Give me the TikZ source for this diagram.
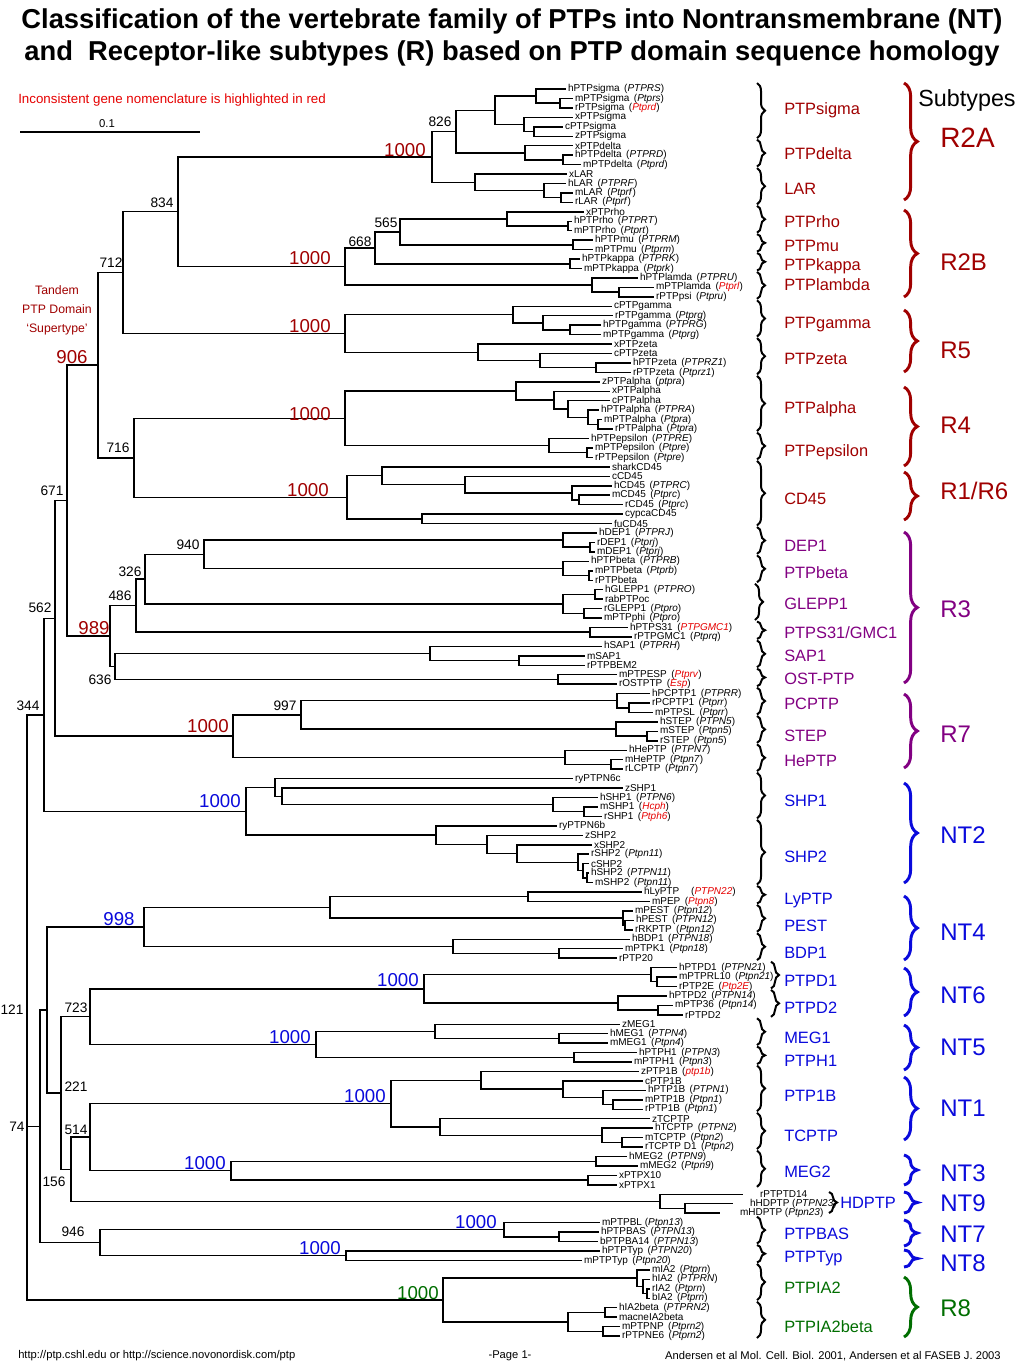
\documentclass[tikz,border=0pt]{standalone}
\usepackage{fontspec}
\setmainfont{Liberation Sans}
\usetikzlibrary{calc,decorations.pathreplacing}
\definecolor{dred}{RGB}{160,0,0}
\definecolor{brred}{RGB}{230,0,0}
\definecolor{dpurp}{RGB}{130,0,130}
\definecolor{dblue}{RGB}{10,10,220}
\definecolor{dgreen}{RGB}{0,110,0}
\tikzset{
  brl/.style={line width=1.1pt},
  lbl/.style={anchor=west,inner sep=1.3pt,font=\fontsize{7.5}{8.5}\selectfont},
  bsk/.style={inner sep=0pt,font=\fontsize{10.3}{12}\selectfont},
  bsc/.style={inner sep=0pt,font=\fontsize{14}{16}\selectfont},
  fbr/.style={line width=1.5pt,decorate,decoration={brace,amplitude=6pt}},
  sbr/.style={line width=2.2pt,decorate,decoration={brace,amplitude=10pt}},
  famlbl/.style={anchor=west,inner sep=0pt,font=\fontsize{12.3}{14}\selectfont},
  sublbl/.style={anchor=west,inner sep=0pt,font=\fontsize{18}{20}\selectfont},
  foot/.style={inner sep=0pt,font=\fontsize{8.4}{10}\selectfont}
}
\newcommand\PGene[1]{\kern0.45em(\textit{#1})}
\newcommand\PGeneR[1]{\kern0.45em(\textcolor{brred}{\textit{#1}})}
\newcommand\PNode[5]{\path let \p1=(#3), \p2=(#4) in coordinate (#1) at ({#2*0.75pt},{(\y1+\y2)/2});
  \foreach \ch in {#3,#4#5} {\draw[brl] (#1) |- (\ch);}}
\newcommand\PFam[7]{\draw[fbr] (#6,{89+9.447*(#2-1)-6}) -- (#6,{89+9.447*(#3-1)+2});
  \node[famlbl,text=#5] (#1) at (784,{89+9.447*(#2+#3-2)/2+#7}) {#4};}
\newcommand\PSub[6]{\draw[sbr,#5] (904,#2) -- (904,#3);
  \node[sublbl,text=#5] (#1) at (940,#6) {#4};}
\begin{document}
\begin{tikzpicture}[x=0.75pt,y=-0.75pt]
\path[use as bounding box,fill=white] (0,0) rectangle (1024,1365);
\node[font=\fontsize{20.5}{24}\bfseries\selectfont,inner sep=0pt] (title1) at (512,21) {Classification of the vertebrate family of PTPs into Nontransmembrane (NT)};
\node[font=\fontsize{20.5}{24}\bfseries\selectfont,inner sep=0pt] (title2) at (512,53) {and\ \ Receptor-like subtypes (R) based on PTP domain sequence homology};
\node[anchor=west,inner sep=0pt,text=brred,font=\fontsize{10}{12}\selectfont] (note) at (18,100) {Inconsistent gene nomenclature is highlighted in red};
\coordinate (sb1) at (20,132); \coordinate (sb2) at (200,132);
\draw[line width=0.8pt] (sb1) -- (sb2);
\node[bsk,font=\fontsize{8.5}{10}\selectfont] (sbl) at (107,124) {0.1};
\node[text=dred,inner sep=0pt,font=\fontsize{9.2}{11}\selectfont] (tandem1) at (57,290) {Tandem};
\node[text=dred,inner sep=0pt,font=\fontsize{9.2}{11}\selectfont] (tandem2) at (57,309) {PTP Domain};
\node[text=dred,inner sep=0pt,font=\fontsize{9.2}{11}\selectfont] (tandem3) at (57,329) {‘Supertype’};
% leaves
\coordinate (L1) at (566,{89+9.447*0}); \node[lbl] (T1) at (L1) {hPTPsigma\PGene{PTPRS}};
\coordinate (L2) at (573,{89+9.447*1}); \node[lbl] (T2) at (L2) {mPTPsigma\PGene{Ptprs}};
\coordinate (L3) at (573,{89+9.447*2}); \node[lbl] (T3) at (L3) {rPTPsigma\PGeneR{Ptprd}};
\coordinate (L4) at (573,{89+9.447*3}); \node[lbl] (T4) at (L4) {xPTPsigma};
\coordinate (L5) at (563,{89+9.447*4}); \node[lbl] (T5) at (L5) {cPTPsigma};
\coordinate (L6) at (573,{89+9.447*5}); \node[lbl] (T6) at (L6) {zPTPsigma};
\coordinate (L7) at (573,{89+9.447*6}); \node[lbl] (T7) at (L7) {xPTPdelta};
\coordinate (L8) at (573,{89+9.447*7}); \node[lbl] (T8) at (L8) {hPTPdelta\PGene{PTPRD}};
\coordinate (L9) at (581,{89+9.447*8}); \node[lbl] (T9) at (L9) {mPTPdelta\PGene{Ptprd}};
\coordinate (L10) at (567,{89+9.447*9}); \node[lbl] (T10) at (L10) {xLAR};
\coordinate (L11) at (566,{89+9.447*10}); \node[lbl] (T11) at (L11) {hLAR\PGene{PTPRF}};
\coordinate (L12) at (573,{89+9.447*11}); \node[lbl] (T12) at (L12) {mLAR\PGene{Ptprf}};
\coordinate (L13) at (573,{89+9.447*12}); \node[lbl] (T13) at (L13) {rLAR\PGene{Ptprf}};
\coordinate (L14) at (584,{89+9.447*13}); \node[lbl] (T14) at (L14) {xPTPrho};
\coordinate (L15) at (572,{89+9.447*14}); \node[lbl] (T15) at (L15) {hPTPrho\PGene{PTPRT}};
\coordinate (L16) at (572,{89+9.447*15}); \node[lbl] (T16) at (L16) {mPTPrho\PGene{Ptprt}};
\coordinate (L17) at (593,{89+9.447*16}); \node[lbl] (T17) at (L17) {hPTPmu\PGene{PTPRM}};
\coordinate (L18) at (593,{89+9.447*17}); \node[lbl] (T18) at (L18) {mPTPmu\PGene{Ptprm}};
\coordinate (L19) at (580,{89+9.447*18}); \node[lbl] (T19) at (L19) {hPTPkappa\PGene{PTPRK}};
\coordinate (L20) at (582,{89+9.447*19}); \node[lbl] (T20) at (L20) {mPTPkappa\PGene{Ptprk}};
\coordinate (L21) at (638,{89+9.447*20}); \node[lbl] (T21) at (L21) {hPTPlamda\PGene{PTPRU}};
\coordinate (L22) at (654,{89+9.447*21}); \node[lbl] (T22) at (L22) {mPTPlamda\PGeneR{Ptprl}};
\coordinate (L23) at (654,{89+9.447*22}); \node[lbl] (T23) at (L23) {rPTPpsi\PGene{Ptpru}};
\coordinate (L24) at (612,{89+9.447*23}); \node[lbl] (T24) at (L24) {cPTPgamma};
\coordinate (L25) at (613,{89+9.447*24}); \node[lbl] (T25) at (L25) {rPTPgamma\PGene{Ptprg}};
\coordinate (L26) at (601,{89+9.447*25}); \node[lbl] (T26) at (L26) {hPTPgamma\PGene{PTPRG}};
\coordinate (L27) at (601,{89+9.447*26}); \node[lbl] (T27) at (L27) {mPTPgamma\PGene{Ptprg}};
\coordinate (L28) at (612,{89+9.447*27}); \node[lbl] (T28) at (L28) {xPTPzeta};
\coordinate (L29) at (612,{89+9.447*28}); \node[lbl] (T29) at (L29) {cPTPzeta};
\coordinate (L30) at (631,{89+9.447*29}); \node[lbl] (T30) at (L30) {hPTPzeta\PGene{PTPRZ1}};
\coordinate (L31) at (631,{89+9.447*30}); \node[lbl] (T31) at (L31) {rPTPzeta\PGene{Ptprz1}};
\coordinate (L32) at (600,{89+9.447*31}); \node[lbl] (T32) at (L32) {zPTPalpha\PGene{ptpra}};
\coordinate (L33) at (610,{89+9.447*32}); \node[lbl] (T33) at (L33) {xPTPalpha};
\coordinate (L34) at (610,{89+9.447*33}); \node[lbl] (T34) at (L34) {cPTPalpha};
\coordinate (L35) at (599,{89+9.447*34}); \node[lbl] (T35) at (L35) {hPTPalpha\PGene{PTPRA}};
\coordinate (L36) at (602,{89+9.447*35}); \node[lbl] (T36) at (L36) {mPTPalpha\PGene{Ptpra}};
\coordinate (L37) at (613,{89+9.447*36}); \node[lbl] (T37) at (L37) {rPTPalpha\PGene{Ptpra}};
\coordinate (L38) at (589,{89+9.447*37}); \node[lbl] (T38) at (L38) {hPTPepsilon\PGene{PTPRE}};
\coordinate (L39) at (593,{89+9.447*38}); \node[lbl] (T39) at (L39) {mPTPepsilon\PGene{Ptpre}};
\coordinate (L40) at (593,{89+9.447*39}); \node[lbl] (T40) at (L40) {rPTPepsilon\PGene{Ptpre}};
\coordinate (L41) at (610,{89+9.447*40}); \node[lbl] (T41) at (L41) {sharkCD45};
\coordinate (L42) at (610,{89+9.447*41}); \node[lbl] (T42) at (L42) {cCD45};
\coordinate (L43) at (612,{89+9.447*42}); \node[lbl] (T43) at (L43) {hCD45\PGene{PTPRC}};
\coordinate (L44) at (610,{89+9.447*43}); \node[lbl] (T44) at (L44) {mCD45\PGene{Ptprc}};
\coordinate (L45) at (623,{89+9.447*44}); \node[lbl] (T45) at (L45) {rCD45\PGene{Ptprc}};
\coordinate (L46) at (623,{89+9.447*45}); \node[lbl] (T46) at (L46) {cypcaCD45};
\coordinate (L47) at (612,{89+9.447*46}); \node[lbl] (T47) at (L47) {fuCD45};
\coordinate (L48) at (597,{89+9.447*47}); \node[lbl] (T48) at (L48) {hDEP1\PGene{PTPRJ}};
\coordinate (L49) at (595,{89+9.447*48}); \node[lbl] (T49) at (L49) {rDEP1\PGene{Ptprj}};
\coordinate (L50) at (595,{89+9.447*49}); \node[lbl] (T50) at (L50) {mDEP1\PGene{Ptprj}};
\coordinate (L51) at (589,{89+9.447*50}); \node[lbl] (T51) at (L51) {hPTPbeta\PGene{PTPRB}};
\coordinate (L52) at (593,{89+9.447*51}); \node[lbl] (T52) at (L52) {mPTPbeta\PGene{Ptprb}};
\coordinate (L53) at (593,{89+9.447*52}); \node[lbl] (T53) at (L53) {rPTPbeta};
\coordinate (L54) at (603,{89+9.447*53}); \node[lbl] (T54) at (L54) {hGLEPP1\PGene{PTPRO}};
\coordinate (L55) at (603,{89+9.447*54}); \node[lbl] (T55) at (L55) {rabPTPoc};
\coordinate (L56) at (602,{89+9.447*55}); \node[lbl] (T56) at (L56) {rGLEPP1\PGene{Ptpro}};
\coordinate (L57) at (602,{89+9.447*56}); \node[lbl] (T57) at (L57) {mPTPphi\PGene{Ptpro}};
\coordinate (L58) at (628,{89+9.447*57}); \node[lbl] (T58) at (L58) {hPTPS31\PGeneR{PTPGMC1}};
\coordinate (L59) at (632,{89+9.447*58}); \node[lbl] (T59) at (L59) {rPTPGMC1\PGene{Ptprq}};
\coordinate (L60) at (602,{89+9.447*59}); \node[lbl] (T60) at (L60) {hSAP1\PGene{PTPRH}};
\coordinate (L61) at (585,{89+9.447*60}); \node[lbl] (T61) at (L61) {mSAP1};
\coordinate (L62) at (585,{89+9.447*61}); \node[lbl] (T62) at (L62) {rPTPBEM2};
\coordinate (L63) at (617,{89+9.447*62}); \node[lbl] (T63) at (L63) {mPTPESP\PGeneR{Ptprv}};
\coordinate (L64) at (617,{89+9.447*63}); \node[lbl] (T64) at (L64) {rOSTPTP\PGeneR{Esp}};
\coordinate (L65) at (650,{89+9.447*64}); \node[lbl] (T65) at (L65) {hPCPTP1\PGene{PTPRR}};
\coordinate (L66) at (650,{89+9.447*65}); \node[lbl] (T66) at (L66) {rPCPTP1\PGene{Ptprr}};
\coordinate (L67) at (653,{89+9.447*66}); \node[lbl] (T67) at (L67) {mPTPSL\PGene{Ptprr}};
\coordinate (L68) at (658,{89+9.447*67}); \node[lbl] (T68) at (L68) {hSTEP\PGene{PTPN5}};
\coordinate (L69) at (658,{89+9.447*68}); \node[lbl] (T69) at (L69) {mSTEP\PGene{Ptpn5}};
\coordinate (L70) at (658,{89+9.447*69}); \node[lbl] (T70) at (L70) {rSTEP\PGene{Ptpn5}};
\coordinate (L71) at (627,{89+9.447*70}); \node[lbl] (T71) at (L71) {hHePTP\PGene{PTPN7}};
\coordinate (L72) at (623,{89+9.447*71}); \node[lbl] (T72) at (L72) {mHePTP\PGene{Ptpn7}};
\coordinate (L73) at (623,{89+9.447*72}); \node[lbl] (T73) at (L73) {rLCPTP\PGene{Ptpn7}};
\coordinate (L74) at (573,{89+9.447*73}); \node[lbl] (T74) at (L74) {ryPTPN6c};
\coordinate (L75) at (623,{89+9.447*74}); \node[lbl] (T75) at (L75) {zSHP1};
\coordinate (L76) at (598,{89+9.447*75}); \node[lbl] (T76) at (L76) {hSHP1\PGene{PTPN6}};
\coordinate (L77) at (598,{89+9.447*76}); \node[lbl] (T77) at (L77) {mSHP1\PGeneR{Hcph}};
\coordinate (L78) at (602,{89+9.447*77}); \node[lbl] (T78) at (L78) {rSHP1\PGeneR{Ptph6}};
\coordinate (L79) at (557,{89+9.447*78}); \node[lbl] (T79) at (L79) {ryPTPN6b};
\coordinate (L80) at (583,{89+9.447*79}); \node[lbl] (T80) at (L80) {zSHP2};
\coordinate (L81) at (592,{89+9.447*80}); \node[lbl] (T81) at (L81) {xSHP2};
\coordinate (L82) at (589,{89+9.447*81}); \node[lbl] (T82) at (L82) {rSHP2\PGene{Ptpn11}};
\coordinate (L83) at (589,{89+9.447*82}); \node[lbl] (T83) at (L83) {cSHP2};
\coordinate (L84) at (589,{89+9.447*83}); \node[lbl] (T84) at (L84) {hSHP2\PGene{PTPN11}};
\coordinate (L85) at (593,{89+9.447*84}); \node[lbl] (T85) at (L85) {mSHP2\PGene{Ptpn11}};
\coordinate (L86) at (642,{89+9.447*85}); \node[lbl] (T86) at (L86) {hLyPTP\kern1.2em(\textcolor{brred}{\textit{PTPN22}})};
\coordinate (L87) at (650,{89+9.447*86}); \node[lbl] (T87) at (L87) {mPEP\PGeneR{Ptpn8}};
\coordinate (L88) at (633,{89+9.447*87}); \node[lbl] (T88) at (L88) {mPEST\PGene{Ptpn12}};
\coordinate (L89) at (634,{89+9.447*88}); \node[lbl] (T89) at (L89) {hPEST\PGene{PTPN12}};
\coordinate (L90) at (633,{89+9.447*89}); \node[lbl] (T90) at (L90) {rRKPTP\PGene{Ptpn12}};
\coordinate (L91) at (630,{89+9.447*90}); \node[lbl] (T91) at (L91) {hBDP1\PGene{PTPN18}};
\coordinate (L92) at (623,{89+9.447*91}); \node[lbl] (T92) at (L92) {mPTPK1\PGene{Ptpn18}};
\coordinate (L93) at (617,{89+9.447*92}); \node[lbl] (T93) at (L93) {rPTP20};
\coordinate (L94) at (677,{89+9.447*93}); \node[lbl] (T94) at (L94) {hPTPD1\PGene{PTPN21}};
\coordinate (L95) at (677,{89+9.447*94}); \node[lbl] (T95) at (L95) {mPTPRL10\PGene{Ptpn21}};
\coordinate (L96) at (677,{89+9.447*95}); \node[lbl] (T96) at (L96) {rPTP2E\PGeneR{Ptp2E}};
\coordinate (L97) at (667,{89+9.447*96}); \node[lbl] (T97) at (L97) {hPTPD2\PGene{PTPN14}};
\coordinate (L98) at (673,{89+9.447*97}); \node[lbl] (T98) at (L98) {mPTP36\PGene{Ptpn14}};
\coordinate (L99) at (683,{89+9.447*98}); \node[lbl] (T99) at (L99) {rPTPD2};
\coordinate (L100) at (620,{89+9.447*99}); \node[lbl] (T100) at (L100) {zMEG1};
\coordinate (L101) at (608,{89+9.447*100}); \node[lbl] (T101) at (L101) {hMEG1\PGene{PTPN4}};
\coordinate (L102) at (608,{89+9.447*101}); \node[lbl] (T102) at (L102) {mMEG1\PGene{Ptpn4}};
\coordinate (L103) at (637,{89+9.447*102}); \node[lbl] (T103) at (L103) {hPTPH1\PGene{PTPN3}};
\coordinate (L104) at (632,{89+9.447*103}); \node[lbl] (T104) at (L104) {mPTPH1\PGene{Ptpn3}};
\coordinate (L105) at (639,{89+9.447*104}); \node[lbl] (T105) at (L105) {zPTP1B\PGeneR{ptp1b}};
\coordinate (L106) at (643,{89+9.447*105}); \node[lbl] (T106) at (L106) {cPTP1B};
\coordinate (L107) at (646,{89+9.447*106}); \node[lbl] (T107) at (L107) {hPTP1B\PGene{PTPN1}};
\coordinate (L108) at (643,{89+9.447*107}); \node[lbl] (T108) at (L108) {mPTP1B\PGene{Ptpn1}};
\coordinate (L109) at (643,{89+9.447*108}); \node[lbl] (T109) at (L109) {rPTP1B\PGene{Ptpn1}};
\coordinate (L110) at (650,{89+9.447*109}); \node[lbl] (T110) at (L110) {zTCPTP};
\coordinate (L111) at (653,{89+9.447*110}); \node[lbl] (T111) at (L111) {hTCPTP\PGene{PTPN2}};
\coordinate (L112) at (643,{89+9.447*111}); \node[lbl] (T112) at (L112) {mTCPTP\PGene{Ptpn2}};
\coordinate (L113) at (643,{89+9.447*112}); \node[lbl] (T113) at (L113) {rTCPTP D1\PGene{Ptpn2}};
\coordinate (L114) at (627,{89+9.447*113}); \node[lbl] (T114) at (L114) {hMEG2\PGene{PTPN9}};
\coordinate (L115) at (638,{89+9.447*114}); \node[lbl] (T115) at (L115) {mMEG2\PGene{Ptpn9}};
\coordinate (L116) at (617,{89+9.447*115}); \node[lbl] (T116) at (L116) {xPTPX10};
\coordinate (L117) at (617,{89+9.447*116}); \node[lbl] (T117) at (L117) {xPTPX1};
\coordinate (L118) at (743,{89+9.447*117}); \node[lbl] (T118) at (758,{89+9.447*117}) {rPTPTD14};
\coordinate (L119) at (733,{89+9.447*118}); \node[lbl] (T119) at (748,{89+9.447*118}) {hHDPTP (\textit{PTPN23})};
\coordinate (L120) at (720,{89+9.447*119}); \node[lbl] (T120) at (738,{89+9.447*119}) {mHDPTP (\textit{Ptpn23})};
\coordinate (L121) at (600,{89+9.447*120}); \node[lbl] (T121) at (L121) {mPTPBL (\textit{Ptpn13})};
\coordinate (L122) at (599,{89+9.447*121}); \node[lbl] (T122) at (L122) {hPTPBAS\PGene{PTPN13}};
\coordinate (L123) at (598,{89+9.447*122}); \node[lbl] (T123) at (L123) {bPTPBA14\PGene{PTPN13}};
\coordinate (L124) at (600,{89+9.447*123}); \node[lbl] (T124) at (L124) {hPTPTyp\PGene{PTPN20}};
\coordinate (L125) at (582,{89+9.447*124}); \node[lbl] (T125) at (L125) {mPTPTyp\PGene{Ptpn20}};
\coordinate (L126) at (650,{89+9.447*125}); \node[lbl] (T126) at (L126) {mIA2\PGene{Ptprn}};
\coordinate (L127) at (650,{89+9.447*126}); \node[lbl] (T127) at (L127) {hIA2\PGene{PTPRN}};
\coordinate (L128) at (650,{89+9.447*127}); \node[lbl] (T128) at (L128) {rIA2\PGene{Ptprn}};
\coordinate (L129) at (650,{89+9.447*128}); \node[lbl] (T129) at (L129) {bIA2\PGene{Ptprn}};
\coordinate (L130) at (617,{89+9.447*129}); \node[lbl] (T130) at (L130) {hIA2beta\PGene{PTPRN2}};
\coordinate (L131) at (617,{89+9.447*130}); \node[lbl] (T131) at (L131) {macneIA2beta};
\coordinate (L132) at (620,{89+9.447*131}); \node[lbl] (T132) at (L132) {mPTPNP\PGene{Ptprn2}};
\coordinate (L133) at (620,{89+9.447*132}); \node[lbl] (T133) at (L133) {rPTPNE6\PGene{Ptprn2}};
% R2A
\PNode{n1}{560}{L2}{L3}{}
\PNode{n2}{536}{L1}{n1}{}
\PNode{n3}{534}{L5}{L6}{}
\PNode{n4}{524}{L4}{n3}{}
\PNode{n5}{495}{n2}{n4}{}
\PNode{n6}{563}{L8}{L9}{}
\PNode{n7}{525}{L7}{n6}{}
\PNode{n826}{456}{n5}{n7}{}
\PNode{n8}{561}{L12}{L13}{}
\PNode{n9}{544}{L11}{n8}{}
\PNode{n10}{475}{L10}{n9}{}
\PNode{nR2A}{432}{n826}{n10}{}
% R2B
\PNode{n11}{568}{L15}{L16}{}
\PNode{n12}{507}{L14}{n11}{}
\PNode{n13}{573}{L17}{L18}{}
\PNode{n565}{400}{n12}{n13}{}
\PNode{n14}{570}{L19}{L20}{}
\PNode{n668}{375}{n565}{n14}{}
\PNode{n15}{619}{L22}{L23}{}
\PNode{n16}{592}{L21}{n15}{}
\PNode{nR2B}{345}{n668}{n16}{}
\PNode{n834}{178}{nR2A}{nR2B}{}
% R5
\PNode{n17}{570}{L26}{L27}{}
\PNode{n18}{543}{L25}{n17}{}
\PNode{n19}{513}{L24}{n18}{}
\PNode{n20}{596}{L30}{L31}{}
\PNode{n21}{540}{L29}{n20}{}
\PNode{n22}{478}{L28}{n21}{}
\PNode{nR5}{345}{n19}{n22}{}
\PNode{n712}{123}{n834}{nR5}{}
% R4
\PNode{n23}{598}{L36}{L37}{}
\PNode{n24}{588}{L35}{n23}{}
\PNode{n25}{568}{L34}{n24}{}
\PNode{n26}{554}{L33}{n25}{}
\PNode{n27}{516}{L32}{n26}{}
\PNode{n28}{587}{L39}{L40}{}
\PNode{n29}{549}{L38}{n28}{}
\PNode{nR4}{345}{n27}{n29}{}
% CD45
\PNode{n30}{579}{L44}{L45}{}
\PNode{n31}{572}{L43}{n30}{}
\PNode{n32}{465}{L42}{n31}{}
\PNode{n33}{382}{L41}{n32}{}
\PNode{n34}{422}{L46}{L47}{}
\PNode{nCD}{347}{n33}{n34}{}
\PNode{n716}{134}{nR4}{nCD}{}
\PNode{n906}{98}{n712}{n716}{}
% R3
\PNode{n35}{590}{L49}{L50}{}
\PNode{n36}{563}{L48}{n35}{}
\PNode{n37}{589}{L52}{L53}{}
\PNode{n38}{563}{L51}{n37}{}
\PNode{n940}{204}{n36}{n38}{}
\PNode{n39}{595}{L54}{L55}{}
\PNode{n40}{584}{L56}{L57}{}
\PNode{n41}{563}{n39}{n40}{}
\PNode{n326}{145}{n940}{n41}{}
\PNode{n42}{590}{L58}{L59}{}
\PNode{n486}{136}{n326}{n42}{}
\PNode{n43}{519}{L61}{L62}{}
\PNode{n44}{430}{L60}{n43}{}
\PNode{n45}{558}{L63}{L64}{}
\PNode{n636}{115}{n44}{n45}{}
\PNode{n989}{110}{n486}{n636}{}
\PNode{n671}{67}{n906}{n989}{}
% R7
\PNode{n46}{629}{L66}{L67}{}
\PNode{n47}{617}{L65}{n46}{}
\PNode{n48}{647}{L69}{L70}{}
\PNode{n49}{616}{L68}{n48}{}
\PNode{n997}{301}{n47}{n49}{}
\PNode{n50}{611}{L72}{L73}{}
\PNode{n51}{565}{L71}{n50}{}
\PNode{nR7}{233}{n997}{n51}{}
\PNode{n562}{55}{n671}{nR7}{}
% SHP
\PNode{n52}{584}{L77}{L78}{}
\PNode{n53}{553}{L76}{n52}{}
\PNode{n54}{282}{L75}{n53}{}
\PNode{n55}{275}{L74}{n54}{}
\PNode{n56}{587}{L84}{L85}{}
\PNode{n57}{583}{L83}{n56}{}
\PNode{n58}{578}{L82}{n57}{}
\PNode{n59}{517}{L81}{n58}{}
\PNode{n60}{487}{L80}{n59}{}
\PNode{n61}{436}{L79}{n60}{}
\PNode{nSHP}{246}{n55}{n61}{}
\PNode{n344}{44}{n562}{nSHP}{}
% NT4
\PNode{n62}{528}{L86}{L87}{}
\PNode{n63}{625}{L89}{L90}{}
\PNode{n64}{623}{L88}{n63}{}
\PNode{n65}{330}{n62}{n64}{}
\PNode{n66}{559}{L92}{L93}{}
\PNode{n67}{453}{L91}{n66}{}
\PNode{n998}{144}{n65}{n67}{}
% NT6, NT5
\PNode{n68}{657}{L95}{L96}{}
\PNode{n69}{651}{L94}{n68}{}
\PNode{n70}{658}{L98}{L99}{}
\PNode{n71}{618}{L97}{n70}{}
\PNode{nNT6}{424}{n69}{n71}{}
\PNode{n72}{559}{L101}{L102}{}
\PNode{n73}{435}{L100}{n72}{}
\PNode{n74}{574}{L103}{L104}{}
\PNode{nNT5}{316}{n73}{n74}{}
\PNode{n723}{90}{nNT6}{nNT5}{}
% NT1, NT3
\PNode{n75}{613}{L108}{L109}{}
\PNode{n76}{603}{L107}{n75}{}
\PNode{n77}{563}{L106}{n76}{}
\PNode{n78}{481}{L105}{n77}{}
\PNode{n79}{622}{L112}{L113}{}
\PNode{n80}{602}{L111}{n79}{}
\PNode{n81}{440}{L110}{n80}{}
\PNode{nNT1}{391}{n78}{n81}{}
\PNode{n82}{596}{L114}{L115}{}
\PNode{n83}{588}{L116}{L117}{}
\PNode{nNT3}{231}{n82}{n83}{}
\PNode{n514}{90}{nNT1}{nNT3}{}
% NT9, NT7, NT8
\PNode{n84}{685}{L119}{L120}{}
\PNode{n85}{660}{L118}{n84}{}
\PNode{n86}{559}{L122}{L123}{}
\PNode{n87}{504}{L121}{n86}{}
\PNode{nTyp}{346}{L124}{L125}{}
\PNode{n946}{100}{n87}{nTyp}{}
% R8
\PNode{n88}{647}{L128}{L129}{}
\PNode{n89}{643}{L127}{n88}{}
\PNode{n90}{637}{L126}{n89}{}
\PNode{n91}{605}{L130}{L131}{}
\PNode{n92}{603}{L132}{L133}{}
\PNode{n93}{568}{n91}{n92}{}
\PNode{nR8}{443}{n90}{n93}{}
% deep nodes
\PNode{n156}{71}{n514}{n85}{}
\PNode{n221}{61}{n723}{n156}{}
\PNode{nA}{47}{n998}{n221}{}
\PNode{n74b}{40}{nA}{n946}{}
\PNode{nroot}{27}{n344}{nR8}{,n74b}
% bootstrap labels
\node[bsk] (b826) at (440,122) {826};
\node[bsk] (b834) at (162,203) {834};
\node[bsk] (b565) at (386,223) {565};
\node[bsk] (b668) at (360,242) {668};
\node[bsk] (b712) at (111,263) {712};
\node[bsk] (b716) at (118,448) {716};
\node[bsk] (b671) at (52,491) {671};
\node[bsk] (b940) at (188,545) {940};
\node[bsk] (b326) at (130,572) {326};
\node[bsk] (b486) at (120,596) {486};
\node[bsk] (b562) at (40,608) {562};
\node[bsk] (b636) at (100,680) {636};
\node[bsk] (b344) at (28,706) {344};
\node[bsk] (b997) at (285,706) {997};
\node[bsk] (b121) at (12,1010) {121};
\node[bsk] (b723) at (76,1008) {723};
\node[bsk] (b221) at (76,1087) {221};
\node[bsk] (b514) at (76,1130) {514};
\node[bsk] (b74) at (17,1127) {74};
\node[bsk] (b156) at (54,1182) {156};
\node[bsk] (b946) at (73,1232) {946};
\node[bsc,text=dred] (bR2A) at (405,150) {1000};
\node[bsc,text=dred] (bR2B) at (310,258) {1000};
\node[bsc,text=dred] (bR5) at (310,326) {1000};
\node[bsc,text=dred] (b906) at (72,357) {906};
\node[bsc,text=dred] (bR4) at (310,414) {1000};
\node[bsc,text=dred] (bCD) at (308,490) {1000};
\node[bsc,text=dred] (b989) at (94,628) {989};
\node[bsc,text=dred] (bR7) at (208,726) {1000};
\node[bsc,text=dblue] (bSHP) at (220,801) {1000};
\node[bsc,text=dblue] (b998) at (119,919) {998};
\node[bsc,text=dblue] (bNT6) at (398,980) {1000};
\node[bsc,text=dblue] (bNT5) at (290,1037) {1000};
\node[bsc,text=dblue] (bNT1) at (365,1096) {1000};
\node[bsc,text=dblue] (bNT3) at (205,1163) {1000};
\node[bsc,text=dblue] (bBAS) at (476,1222) {1000};
\node[bsc,text=dblue] (bTyp) at (320,1248) {1000};
\node[bsc,text=dgreen] (bR8) at (418,1293) {1000};
% family braces
\PFam{fsig}{1}{6}{PTPsigma}{dred}{757}{-2}
\PFam{fdel}{7}{9}{PTPdelta}{dred}{757}{-1}
\PFam{flar}{10}{13}{LAR}{dred}{757}{1}
\PFam{frho}{14}{16}{PTPrho}{dred}{757}{0}
\PFam{fmu}{17}{18}{PTPmu}{dred}{757}{1}
\PFam{fkap}{19}{20}{PTPkappa}{dred}{757}{2}
\PFam{flam}{21}{23}{PTPlambda}{dred}{757}{-3}
\PFam{fgam}{24}{27}{PTPgamma}{dred}{757}{4}
\PFam{fzet}{28}{31}{PTPzeta}{dred}{757}{1}
\PFam{falp}{32}{37}{PTPalpha}{dred}{757}{4}
\PFam{feps}{38}{40}{PTPepsilon}{dred}{757}{4}
\PFam{fcd}{41}{47}{CD45}{dred}{757}{4}
\PFam{fdep}{48}{50}{DEP1}{dpurp}{757}{3}
\PFam{fbet}{51}{53}{PTPbeta}{dpurp}{757}{2}
\PFam{fgle}{54}{57}{GLEPP1}{dpurp}{755}{0}
\PFam{fs31}{58}{59}{PTPS31/GMC1}{dpurp}{757}{0}
\PFam{fsap}{60}{62}{SAP1}{dpurp}{757}{0}
\PFam{fost}{63}{64}{OST-PTP}{dpurp}{757}{-1}
\PFam{fpc}{65}{67}{PCPTP}{dpurp}{757}{1}
\PFam{fste}{68}{70}{STEP}{dpurp}{757}{4}
\PFam{fhe}{71}{73}{HePTP}{dpurp}{757}{1}
\PFam{fsh1}{74}{78}{SHP1}{dblue}{757}{3}
\PFam{fsh2}{79}{85}{SHP2}{dblue}{757}{3}
\PFam{fly}{86}{87}{LyPTP}{dblue}{757}{4}
\PFam{fpe}{88}{90}{PEST}{dblue}{757}{6}
\PFam{fbd}{91}{93}{BDP1}{dblue}{757}{4}
\PFam{fd1}{94}{96}{PTPD1}{dblue}{771}{4}
\PFam{fd2}{97}{99}{PTPD2}{dblue}{771}{2}
\PFam{fme1}{100}{102}{MEG1}{dblue}{757}{4}
\PFam{fh1}{103}{104}{PTPH1}{dblue}{757}{4}
\PFam{f1b}{105}{109}{PTP1B}{dblue}{757}{5}
\PFam{ftc}{110}{113}{TCPTP}{dblue}{757}{3}
\PFam{fme2}{114}{117}{MEG2}{dblue}{757}{1}
\draw[fbr] (829,1192) -- (829,1213);
\node[famlbl,text=dblue] (fhd) at (840,1203) {HDPTP};
\PFam{fbas}{121}{123}{PTPBAS}{dblue}{757}{2}
\PFam{ftyp}{124}{125}{PTPTyp}{dblue}{757}{3}
\PFam{fia}{126}{129}{PTPIA2}{dgreen}{757}{4}
\PFam{fiab}{130}{133}{PTPIA2beta}{dgreen}{757}{5}
% subtype braces
\node[inner sep=0pt,font=\fontsize{17.5}{20}\selectfont] (subtypes) at (967,100) {Subtypes};
\draw[sbr,dred] (904,83) -- (904,200);
\node[sublbl,text=dred,font=\fontsize{21}{24}\selectfont] (sR2A) at (940,138) {R2A};
\PSub{sR2B}{210}{297}{R2B}{dred}{262}
\PSub{sR5}{310}{372}{R5}{dred}{350}
\PSub{sR4}{387}{466}{R4}{dred}{425}
\PSub{sR1}{472}{520}{R1/R6}{dred}{491}
\PSub{sR3}{532}{683}{R3}{dpurp}{609}
\PSub{sR7}{694}{768}{R7}{dpurp}{734}
\PSub{sNT2}{783}{883}{NT2}{dblue}{835}
\PSub{sNT4}{896}{960}{NT4}{dblue}{932}
\PSub{sNT6}{968}{1016}{NT6}{dblue}{995}
\PSub{sNT5}{1025}{1070}{NT5}{dblue}{1047}
\PSub{sNT1}{1077}{1140}{NT1}{dblue}{1108}
\PSub{sNT3}{1155}{1185}{NT3}{dblue}{1173}
\PSub{sNT9}{1192}{1213}{NT9}{dblue}{1203}
\PSub{sNT7}{1220}{1246}{NT7}{dblue}{1234}
\PSub{sNT8}{1250}{1267}{NT8}{dblue}{1263}
\PSub{sR8}{1277}{1337}{R8}{dgreen}{1308}
% footer
\node[foot,anchor=west] (f1) at (18,1356) {http://ptp.cshl.edu or http://science.novonordisk.com/ptp};
\node[foot] (f2) at (510,1356) {-Page 1-};
\node[foot,anchor=east] (f3) at (1001,1356) {Andersen et al Mol. Cell. Biol. 2001, Andersen et al FASEB J. 2003};
\end{tikzpicture}
\end{document}
